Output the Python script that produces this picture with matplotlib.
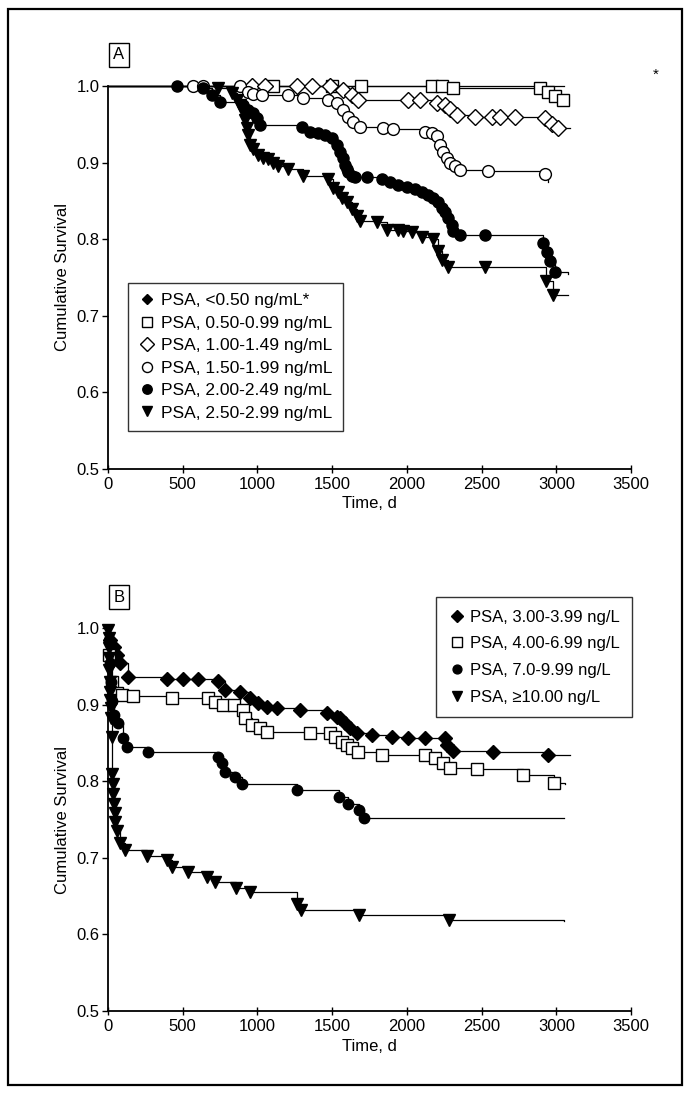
import matplotlib
matplotlib.use("Agg")
import matplotlib.pyplot as plt
from matplotlib.patches import Rectangle

plt.rcParams["font.family"] = ["Liberation Sans Narrow", "Liberation Sans", "DejaVu Sans"]

# ---- Panel A data (days, cumulative survival) ----
a_labels = [
    "PSA, <0.50 ng/mL*",
    "PSA, 0.50-0.99 ng/mL",
    "PSA, 1.00-1.49 ng/mL",
    "PSA, 1.50-1.99 ng/mL",
    "PSA, 2.00-2.49 ng/mL",
    "PSA, 2.50-2.99 ng/mL",
]

a0_t = [0, 3050]
a0_s = [1.0, 1.0]

a1_t = [0, 1105, 1500, 1690, 2170, 2235, 2310, 2890, 2945, 2990, 3045, 3060]
a1_s = [1, 1, 1, 1, 1, 1, 0.997, 0.997, 0.992, 0.987, 0.981, 0.981]

a2_t = [0, 965, 1050, 1265, 1365, 1485, 1570, 1630, 1675, 2010, 2090, 2200, 2255,
        2290, 2335, 2455, 2570, 2625, 2725, 2925, 2970, 3010, 3090]
a2_s = [1, 1, 1, 1, 1, 1, 0.995, 0.988, 0.982, 0.982, 0.982, 0.978, 0.975,
        0.97, 0.962, 0.96, 0.96, 0.96, 0.96, 0.958, 0.95, 0.945, 0.945]

a3_t = [0, 570, 635, 885, 940, 970, 1030, 1205, 1305, 1470, 1530, 1575, 1605, 1640,
        1685, 1840, 1910, 2120, 2170, 2200, 2220, 2240, 2270, 2290, 2320, 2355, 2545,
        2925, 2945]
a3_s = [1, 1, 1, 1, 0.992, 0.99, 0.988, 0.988, 0.984, 0.982, 0.978, 0.969, 0.96, 0.953,
        0.947, 0.945, 0.944, 0.94, 0.939, 0.934, 0.923, 0.914, 0.906, 0.9, 0.895, 0.89, 0.889,
        0.885, 0.875]

a4_t = [0, 460, 635, 695, 750, 905, 935, 970, 995, 1015, 1300, 1350, 1405, 1450, 1500,
        1530, 1550, 1575, 1585, 1600, 1605, 1630, 1655, 1735, 1835, 1890, 1940, 2000, 2055,
        2100, 2140, 2175, 2210, 2235, 2255, 2275, 2300, 2310, 2355, 2525, 2910, 2940, 2960,
        2990, 3080]
a4_s = [1, 1, 0.997, 0.988, 0.979, 0.975, 0.969, 0.965, 0.958, 0.949, 0.947, 0.94, 0.939,
        0.936, 0.932, 0.923, 0.914, 0.906, 0.897, 0.891, 0.887, 0.882, 0.881, 0.881, 0.878,
        0.875, 0.871, 0.868, 0.865, 0.861, 0.858, 0.854, 0.848, 0.841, 0.835, 0.828, 0.819,
        0.81, 0.806, 0.806, 0.795, 0.783, 0.771, 0.757, 0.755]

a5_t = [0, 735, 830, 865, 885, 905, 915, 930, 940, 950, 970, 1005, 1040, 1070, 1105, 1140,
        1205, 1305, 1470, 1505, 1540, 1565, 1600, 1635, 1665, 1685, 1800, 1865, 1940, 1975,
        2035, 2100, 2175, 2210, 2235, 2275, 2525, 2930, 2980, 3080]
a5_s = [1, 0.997, 0.991, 0.982, 0.975, 0.966, 0.956, 0.945, 0.936, 0.923, 0.917, 0.91, 0.906,
        0.904, 0.9, 0.895, 0.891, 0.882, 0.878, 0.867, 0.861, 0.854, 0.848, 0.839, 0.83, 0.823,
        0.822, 0.812, 0.812, 0.81, 0.809, 0.803, 0.8, 0.784, 0.773, 0.763, 0.763, 0.745, 0.727,
        0.727]

# ---- Panel B data ----
b_labels = [
    "PSA, 3.00-3.99 ng/L",
    "PSA, 4.00-6.99 ng/L",
    "PSA, 7.0-9.99 ng/L",
    "PSA, \u226510.00 ng/L",
]

b0_t = [0, 15, 40, 60, 80, 135, 395, 500, 600, 735, 785, 885, 950, 1005, 1065, 1130, 1285,
        1465, 1530, 1553, 1586, 1620, 1667, 1767, 1900, 2008, 2122, 2256, 2270, 2310, 2577,
        2945, 3090]
b0_s = [1, 0.985, 0.975, 0.965, 0.954, 0.936, 0.934, 0.934, 0.934, 0.931, 0.919, 0.916, 0.909,
        0.902, 0.897, 0.896, 0.893, 0.889, 0.884, 0.882, 0.876, 0.869, 0.863, 0.86, 0.858, 0.856,
        0.856, 0.856, 0.847, 0.84, 0.838, 0.834, 0.834]

b1_t = [0, 10, 30, 60, 95, 170, 430, 670, 715, 770, 840, 905, 915, 965, 1015, 1065, 1350,
        1485, 1520, 1565, 1600, 1633, 1673, 1834, 2122, 2189, 2242, 2289, 2470, 2775, 2985,
        3060]
b1_s = [1, 0.965, 0.93, 0.915, 0.913, 0.911, 0.909, 0.909, 0.903, 0.9, 0.9, 0.893, 0.883, 0.873,
        0.869, 0.864, 0.863, 0.863, 0.858, 0.851, 0.847, 0.843, 0.838, 0.834, 0.834, 0.83, 0.824,
        0.817, 0.816, 0.808, 0.798, 0.797]

b2_t = [0, 5, 15, 20, 25, 40, 70, 100, 125, 270, 735, 760, 785, 850, 900, 1265, 1546, 1606,
        1680, 1713, 3052]
b2_s = [1, 0.985, 0.955, 0.93, 0.905, 0.886, 0.876, 0.856, 0.845, 0.838, 0.832, 0.824, 0.812,
        0.805, 0.797, 0.789, 0.779, 0.77, 0.762, 0.752, 0.752]

b3_t = [0, 2, 4, 6, 8, 10, 12, 14, 16, 18, 20, 24, 28, 32, 36, 40, 45, 50, 60, 80, 115, 260,
        395, 430, 535, 660, 715, 860, 950, 1265, 1290, 1680, 2280, 3050]
b3_s = [1.0, 0.997, 0.987, 0.974, 0.961, 0.945, 0.93, 0.916, 0.906, 0.896, 0.883, 0.858, 0.81,
        0.797, 0.783, 0.77, 0.758, 0.747, 0.735, 0.72, 0.71, 0.702, 0.697, 0.688, 0.682, 0.675,
        0.669, 0.661, 0.655, 0.64, 0.632, 0.625, 0.619, 0.618]

x_ticks = [0, 500, 1000, 1500, 2000, 2500, 3000, 3500]
y_ticks = [0.5, 0.6, 0.7, 0.8, 0.9, 1.0]

# marker styles: (marker, facecolor, size)
a_styles = [("D", "black", 6.5), ("s", "white", 8), ("D", "white", 8.5),
            ("o", "white", 8.5), ("o", "black", 8), ("v", "black", 8.5)]
b_styles = [("D", "black", 7.5), ("s", "white", 8), ("o", "black", 7.5), ("v", "black", 8.5)]


def draw_series(ax, t, s, style, label):
    marker, face, size = style
    ax.step(t, s, where="post", color="black", lw=0.9, clip_on=False, zorder=2)
    ax.plot(t[1:-1], s[1:-1], ls="none", marker=marker, ms=size, mfc=face,
            mec="black", mew=1.0, clip_on=False, zorder=3)
    ax.plot([], [], ls="none", marker=marker, ms=size * 0.85, mfc=face, mec="black",
            mew=1.0, label=label)


def style_axes(ax, letter):
    ax.set_xlim(0, 3500)
    ax.set_ylim(0.5, 1.0)
    ax.set_xticks(x_ticks)
    ax.set_yticks(y_ticks)
    ax.set_yticklabels([f"{v:.1f}" for v in y_ticks])
    ax.spines["top"].set_visible(False)
    ax.spines["right"].set_visible(False)
    ax.spines["left"].set_linewidth(1.3)
    ax.spines["bottom"].set_linewidth(1.3)
    ax.tick_params(axis="x", direction="inout", length=6, width=1, labelsize=12, pad=3)
    ax.tick_params(axis="y", direction="out", length=4, width=1, labelsize=12, pad=2)
    ax.set_xlabel("Time, d", fontsize=12, labelpad=3)
    ax.set_ylabel("Cumulative Survival", fontsize=12, labelpad=5)
    ax.text(0.021, 1.081, letter, transform=ax.transAxes, ha="center", va="center",
            fontsize=12, bbox=dict(boxstyle="square,pad=0.25", fc="white", ec="black", lw=1))


def main():
    fig = plt.figure(figsize=(6.92, 10.93), dpi=100)
    fig.patches.append(Rectangle((0.012, 0.007), 0.974, 0.985, transform=fig.transFigure,
                                 fill=False, ec="black", lw=1.6))

    ax_a = fig.add_axes([0.156, 0.571, 0.756, 0.3504])
    a_data = [(a0_t, a0_s), (a1_t, a1_s), (a2_t, a2_s), (a3_t, a3_s), (a4_t, a4_s), (a5_t, a5_s)]
    for (t, s), style, label in zip(a_data, a_styles, a_labels):
        draw_series(ax_a, t, s, style, label)
    style_axes(ax_a, "A")
    ax_a.text(3665, 1.014, "*", fontsize=11, ha="center", va="center")
    leg = ax_a.legend(loc="upper left", bbox_to_anchor=(0.038, 0.486), fontsize=12.5,
                      frameon=True, fancybox=False, edgecolor="black", handletextpad=0.3,
                      handlelength=1.0, borderpad=0.6, labelspacing=0.42, borderaxespad=0)
    leg.get_frame().set_linewidth(1.0)

    ax_b = fig.add_axes([0.156, 0.075, 0.756, 0.3504])
    b_data = [(b0_t, b0_s), (b1_t, b1_s), (b2_t, b2_s), (b3_t, b3_s)]
    for (t, s), style, label in zip(b_data, b_styles, b_labels):
        draw_series(ax_b, t, s, style, label)
    style_axes(ax_b, "B")
    leg = ax_b.legend(loc="upper right", bbox_to_anchor=(1.002, 1.081), fontsize=12,
                      frameon=True, fancybox=False, edgecolor="black", handletextpad=0.3,
                      handlelength=1.0, borderpad=0.75, labelspacing=0.7, borderaxespad=0)
    leg.get_frame().set_linewidth(1.0)

    fig.savefig("out.png", dpi=100)
    plt.close(fig)


if __name__ == "__main__":
    main()
